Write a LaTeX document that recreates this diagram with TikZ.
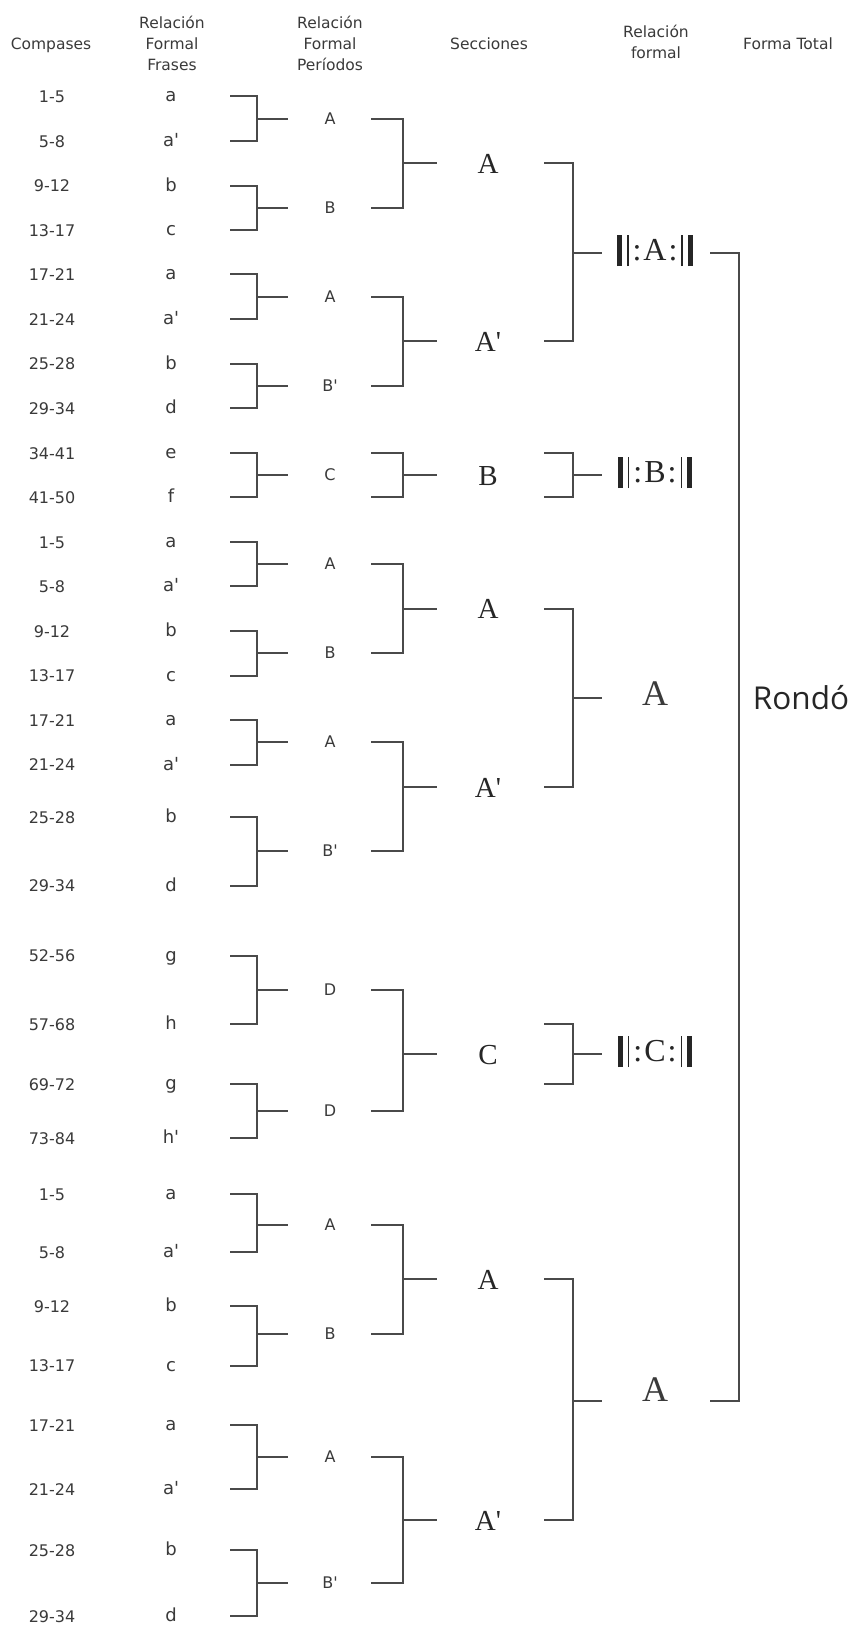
\documentclass[tikz,border=0pt]{standalone}
\usepackage{fontspec}
\newfontfamily\sansf[Ligatures=TeXOff]{DejaVu Sans}
\newfontfamily\serff[Ligatures=TeXOff]{Liberation Serif}
\newfontfamily\rondf{Open Sans}
\definecolor{lc}{HTML}{4A4A4A}
\definecolor{tc}{HTML}{3A3A3A}
\definecolor{sc}{HTML}{262626}
\newcommand\brk[6]{\draw[bline] (#1 -| #4) -- (#1 -| #5) -- (#2 -| #5) -- (#2 -| #4); \draw[bline] (#3 -| #5) -- (#3 -| #6);}
\newcommand\rpt[1]{\rule[-6pt]{4.5pt}{31pt}\hspace{5.5pt}\rule[-6pt]{1.1pt}{31pt}\hspace{4pt}:\hspace{2pt}#1\hspace{2pt}:\hspace{4pt}\rule[-6pt]{1.1pt}{31pt}\hspace{5.5pt}\rule[-6pt]{4.5pt}{31pt}}
\begin{document}
\begin{tikzpicture}[x=1pt,y=-1pt,
  bline/.style={draw=lc, line width=2pt},
  num/.style={font=\sansf\fontsize{16}{18}\selectfont, text=tc, inner sep=0pt, text height=12pt, text depth=0pt},
  let/.style={font=\sansf\fontsize{18}{20}\selectfont, text=tc, inner sep=0pt, text height=11.5pt, text depth=0pt},
  per/.style={font=\sansf\fontsize{16}{18}\selectfont, text=tc, inner sep=0pt, text height=11pt, text depth=0pt},
  sec/.style={font=\serff\fontsize{29}{30}\selectfont, text=sc, inner sep=0pt, text height=20pt, text depth=0pt},
  rep/.style={font=\serff\fontsize{32}{34}\selectfont, text=sc, inner sep=0pt, text height=14pt, text depth=0pt},
  big/.style={font=\serff\fontsize{36}{38}\selectfont, text=tc, inner sep=0pt, text height=15.4pt, text depth=0pt},
  hdr/.style={font=\sansf\fontsize{15.5}{21}\selectfont, text=tc, inner sep=0pt, anchor=base},
]
\fill[white] (0,0) rectangle (852,1625);
\useasboundingbox (0,0) rectangle (852,1625);

% column guide coordinates
\coordinate (X1) at (230,0); \coordinate (V1) at (257,0); \coordinate (S1) at (288,0);
\coordinate (X2) at (371,0); \coordinate (V2) at (403,0); \coordinate (S2) at (437,0);
\coordinate (X3) at (544,0); \coordinate (V3) at (573,0); \coordinate (S3) at (602,0);
\coordinate (X4) at (710,0); \coordinate (V4) at (739,0);

% headers
\node[hdr] (h1) at (51,49.5) {Compases};
\node[hdr] (h2) at (172,28) {\begin{tabular}[t]{@{}c@{}}Relación\\Formal\\Frases\end{tabular}};
\node[hdr] (h3) at (330,28) {\begin{tabular}[t]{@{}c@{}}Relación\\Formal\\Períodos\end{tabular}};
\node[hdr] (h4) at (489,49.5) {Secciones};
\node[hdr] (h5) at (656,37) {\begin{tabular}[t]{@{}c@{}}Relación\\formal\end{tabular}};
\node[hdr] (h6) at (788,49.5) {Forma Total};

% measures and phrases
\foreach \i/\c/\f/\y in {
1/1-5/a/96, 2/5-8/a'/141, 3/9-12/b/185.5, 4/13-17/c/230, 5/17-21/a/274, 6/21-24/a'/319, 7/25-28/b/363.5, 8/29-34/d/408,
9/34-41/e/453, 10/41-50/f/497,
11/1-5/a/542, 12/5-8/a'/586, 13/9-12/b/631, 14/13-17/c/675.5, 15/17-21/a/720, 16/21-24/a'/764.5, 17/25-28/b/817, 18/29-34/d/885.5,
19/52-56/g/955.5, 20/57-68/h/1024, 21/69-72/g/1084, 22/73-84/h'/1138,
23/1-5/a/1194, 24/5-8/a'/1252, 25/9-12/b/1306, 26/13-17/c/1365.5, 27/17-21/a/1425, 28/21-24/a'/1489, 29/25-28/b/1550, 30/29-34/d/1616}
{\node[num] (c\i) at (52,\y) {\c}; \node[let] (f\i) at (171,\y) {\f};}

% periods
\foreach \i/\t/\y in {1/A/118.5, 2/B/207.75, 3/A/296.5, 4/B'/385.75, 5/C/475, 6/A/564, 7/B/653.25, 8/A/742.25, 9/B'/851.25, 10/D/990, 11/D/1111, 12/A/1225, 13/B/1334, 14/A/1457, 15/B'/1583}
{\node[per] (p\i) at (330,\y) {\t};}

% sections
\foreach \i/\t/\y in {1/A/163, 2/A'/341, 3/B/475, 4/A/608.6, 5/A'/787, 6/C/1054, 7/A/1279, 8/A'/1520}
{\node[sec] (s\i) at (488,\y) {\t};}

% formal relation
\node[rep] (rf1) at (655,253) {\rpt{A}};
\node[rep] (rf2) at (655,475) {\rpt{B}};
\node[big] (rf3) at (655,697.5) {A};
\node[rep] (rf4) at (655,1054) {\rpt{C}};
\node[big, text height=2pt] (rf5) at (655,1400.5) {A};

% total form
\node[font=\rondf\fontsize{31.5}{34}\selectfont, text=sc, inner sep=0pt, text height=22pt, text depth=0pt] (ft) at (801,698) {Rondó};

% level 1 brackets
\foreach \a/\b/\p in {1/2/1, 3/4/2, 5/6/3, 7/8/4, 9/10/5, 11/12/6, 13/14/7, 15/16/8, 17/18/9, 19/20/10, 21/22/11, 23/24/12, 25/26/13, 27/28/14, 29/30/15}
{\brk{f\a}{f\b}{p\p}{X1}{V1}{S1}}

% level 2 brackets
\brk{p1}{p2}{s1}{X2}{V2}{S2}
\brk{p3}{p4}{s2}{X2}{V2}{S2}
\brk{f9}{f10}{s3}{X2}{V2}{S2}
\brk{p6}{p7}{s4}{X2}{V2}{S2}
\brk{p8}{p9}{s5}{X2}{V2}{S2}
\brk{p10}{p11}{s6}{X2}{V2}{S2}
\brk{p12}{p13}{s7}{X2}{V2}{S2}
\brk{p14}{p15}{s8}{X2}{V2}{S2}

% level 3 brackets
\brk{s1}{s2}{rf1}{X3}{V3}{S3}
\brk{f9}{f10}{rf2}{X3}{V3}{S3}
\brk{s4}{s5}{rf3}{X3}{V3}{S3}
\brk{f20}{f21}{rf4}{X3}{V3}{S3}
\brk{s7}{s8}{rf5}{X3}{V3}{S3}

% final bracket
\draw[bline] (rf1 -| X4) -- (rf1 -| V4) -- (rf5 -| V4) -- (rf5 -| X4);
\end{tikzpicture}
\end{document}
